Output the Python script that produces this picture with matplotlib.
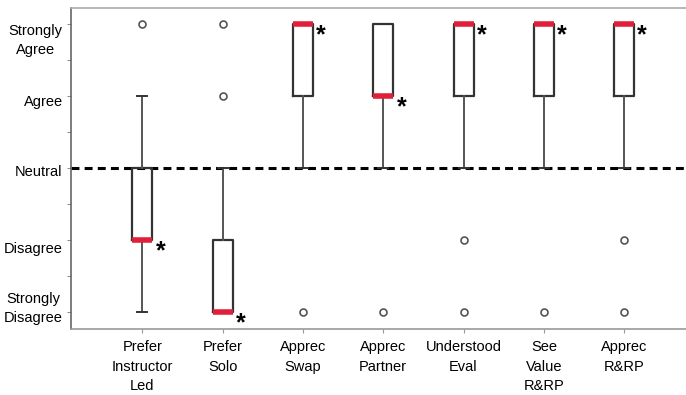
import matplotlib
matplotlib.use('Agg')
import matplotlib.pyplot as plt
from matplotlib.ticker import MultipleLocator

plt.rcParams['font.family'] = ['Liberation Sans', 'DejaVu Sans']

# Likert scale: 1 = Strongly Disagree ... 5 = Strongly Agree
categories = ['Prefer\nInstructor\nLed', 'Prefer\nSolo', 'Apprec\nSwap', 'Apprec\nPartner',
              'Understood\nEval', 'See\nValue\nR&RP', 'Apprec\nR&RP']
q1 = [2, 1, 4, 4, 4, 4, 4]
q3 = [3, 2, 5, 5, 5, 5, 5]
medians = [2, 1, 5, 4, 5, 5, 5]
whisker_lo = [1, 1, 3, 3, 3, 3, 3]
whisker_hi = [4, 3, 5, 5, 5, 5, 5]
fliers = [[5], [4, 5], [1], [1], [2, 1], [1], [2, 1]]

level_labels = ['Strongly\nDisagree', 'Disagree', 'Neutral', 'Agree', 'Strongly\nAgree']
# labels in the original sit a little off their levels
label_pos = [1.11, 1.90, 2.97, 3.94, 4.83]
neutral = 3

stats = []
for i in range(len(categories)):
    stats.append(dict(med=medians[i], q1=q1[i], q3=q3[i],
                      whislo=whisker_lo[i], whishi=whisker_hi[i], fliers=fliers[i]))

positions = list(range(1, len(categories) + 1))

fig = plt.figure(figsize=(6.86, 3.95), dpi=100)
ax = fig.add_axes([71 / 686, 66 / 395, 1 - 71 / 686, 321 / 395])

ax.axhline(neutral, color='black', lw=2.2, linestyle=(0, (2.6, 1.7)), zorder=1)

ax.bxp(stats, positions=positions, widths=0.25, showfliers=True,
       boxprops=dict(color='#333333', linewidth=1.6),
       whiskerprops=dict(color='#555555', linewidth=1.4),
       capprops=dict(color='#333333', linewidth=1.4),
       medianprops=dict(color='#e0203a', linewidth=4, solid_capstyle='butt'),
       flierprops=dict(marker='o', markersize=5, markerfacecolor='none',
                       markeredgecolor='#555555', markeredgewidth=1.2),
       zorder=2)

for p, m in zip(positions, medians):
    ax.annotate('*', (p, m), xytext=(13, -13), textcoords='offset points',
                ha='center', va='baseline', fontsize=18, fontweight='bold',
                color='black')

ax.set_xlim(0.112, 7.77)
ax.set_ylim(0.764, 5.222)

ax.set_xticks(positions)
ax.set_xticklabels(categories, fontsize=10.5, linespacing=1.5)
ax.set_yticks(label_pos)
ax.set_yticklabels(level_labels, fontsize=10.5, multialignment='center', linespacing=1.5)
ax.yaxis.set_minor_locator(MultipleLocator(0.5))
ax.yaxis.set_minor_formatter(plt.NullFormatter())
ax.tick_params(axis='y', which='major', length=0, pad=6)
ax.tick_params(axis='y', which='minor', length=3, color='#777777')
ax.tick_params(axis='x', which='major', length=3, color='#999999', pad=5)

ax.spines['right'].set_visible(False)
ax.spines['left'].set_color('#666666')
ax.spines['bottom'].set_color('#999999')
ax.spines['top'].set_color('#aaaaaa')
for s in ['left', 'bottom', 'top']:
    ax.spines[s].set_linewidth(1.2)

fig.savefig('out.png', dpi=100)
